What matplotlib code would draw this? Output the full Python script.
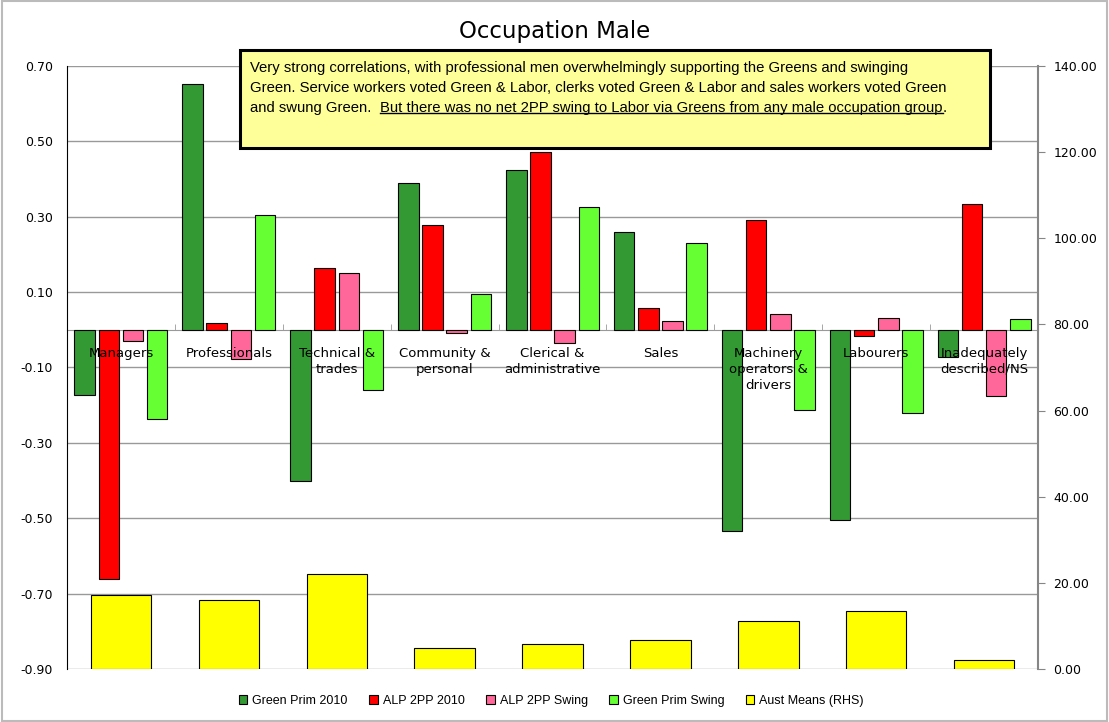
import matplotlib
matplotlib.use("Agg")
import matplotlib.pyplot as plt
import numpy as np
from matplotlib.patches import Patch, Rectangle
from matplotlib.lines import Line2D

# categories and series
categories = ["Managers", "Professionals", "Technical &\ntrades", "Community &\npersonal",
              "Clerical &\nadministrative", "Sales", "Machinery\noperators &\ndrivers",
              "Labourers", "Inadequately\ndescribed/NS"]
green_prim_2010 = [-0.173, 0.652, -0.402, 0.389, 0.424, 0.259, -0.533, -0.504, -0.073]
alp_2pp_2010 = [-0.660, 0.018, 0.164, 0.278, 0.472, 0.058, 0.291, -0.016, 0.334]
alp_2pp_swing = [-0.030, -0.077, 0.151, -0.008, -0.035, 0.023, 0.042, 0.031, -0.175]
green_prim_swing = [-0.237, 0.305, -0.159, 0.095, 0.326, 0.230, -0.213, -0.221, 0.029]
aust_means = [17.2, 16.0, 22.1, 4.9, 5.8, 6.7, 11.1, 13.5, 2.1]

series = [("Green Prim 2010", green_prim_2010, "#339933"),
          ("ALP 2PP 2010", alp_2pp_2010, "#FF0000"),
          ("ALP 2PP Swing", alp_2pp_swing, "#FF6699"),
          ("Green Prim Swing", green_prim_swing, "#66FF33")]

narrow = ["Liberation Sans", "DejaVu Sans"]
grid_col = "#999999"

fig = plt.figure(figsize=(11.09, 7.22), dpi=100)
ax = fig.add_axes([0.0604, 0.0734, 0.8756, 0.8352])
ax2 = ax.twinx()

x = np.arange(len(categories))
w = 0.19
step = 0.224
for i, (name, vals, col) in enumerate(series):
    ax.bar(x + (i - 1.5) * step, vals, w, color=col, edgecolor="black", linewidth=0.8, zorder=3)

ax2.bar(x, aust_means, 0.56, color="#FFFF00", edgecolor="black", linewidth=0.8, zorder=3)

# left axis
ax.set_xlim(-0.5, len(categories) - 0.5)
ax.set_ylim(-0.9, 0.7)
ax.set_yticks(np.arange(-0.9, 0.71, 0.2))
ax.set_yticklabels(["%.2f" % v for v in np.arange(-0.9, 0.71, 0.2)])
ax.yaxis.grid(True, color=grid_col, linewidth=1, zorder=0)
ax.set_axisbelow(True)
ax.tick_params(axis="y", length=0, labelsize=9, pad=10)

# x axis at zero, with small ticks between categories
ax.spines["bottom"].set_position(("data", 0))
ax.spines["bottom"].set_color(grid_col)
ax.spines["bottom"].set_zorder(2)
ax.set_xticks([])
ax.set_xticks(np.arange(-0.5, len(categories), 1.0), minor=True)
ax.tick_params(axis="x", which="minor", direction="in", length=4, color=grid_col)
ax.spines["top"].set_visible(False)
ax.spines["right"].set_visible(False)
ax.spines["left"].set_color("black")

for i, c in enumerate(categories):
    ax.text(i, -0.045, c, ha="center", va="top", fontsize=9.5, zorder=10, linespacing=1.3)

# right axis
ax2.set_ylim(0, 140)
ax2.set_yticks(np.arange(0, 141, 20))
ax2.set_yticklabels(["%.2f" % v for v in np.arange(0, 141, 20)])
ax2.tick_params(axis="y", direction="out", length=5, labelsize=9, pad=6, color="#868686")
for s in ["top", "left", "bottom"]:
    ax2.spines[s].set_visible(False)
ax2.spines["right"].set_color("#868686")
ax2.spines["right"].set_linewidth(1.5)

fig.text(0.5, 0.956, "Occupation Male", ha="center", va="center", fontsize=16.5)

# annotation box
box = Rectangle((0.2164, 0.795), 0.6763, 0.1357, transform=fig.transFigure,
                facecolor="#FFFF99", edgecolor="black", linewidth=2.2, zorder=20)
fig.patches.append(box)
fs = 10.7
lines = ["Very strong correlations, with professional men overwhelmingly supporting the Greens and swinging",
         "Green. Service workers voted Green & Labor, clerks voted Green & Labor and sales workers voted Green"]
fig.text(0.2254, 0.9058, lines[0], ha="left", va="center", fontsize=fs, family=narrow, zorder=21)
fig.text(0.2254, 0.878, lines[1], ha="left", va="center", fontsize=fs, family=narrow, zorder=21)
t1 = fig.text(0.2254, 0.850, "and swung Green.", ha="left", va="center", fontsize=fs, family=narrow, zorder=21)
fig.canvas.draw()
r = fig.canvas.get_renderer()
bb = t1.get_window_extent(r)
x2 = (bb.x1 + 9) / fig.bbox.width
t2 = fig.text(x2, 0.850, "But there was no net 2PP swing to Labor via Greens from any male occupation group",
              ha="left", va="center", fontsize=fs, family=narrow, zorder=21)
bb2 = t2.get_window_extent(r)
fig.text(bb2.x1 / fig.bbox.width, 0.850, ".", ha="left", va="center", fontsize=fs, family=narrow, zorder=21)
uy = (bb2.y0 + 2) / fig.bbox.height
fig.lines.append(Line2D([bb2.x0 / fig.bbox.width, bb2.x1 / fig.bbox.width], [uy, uy],
                        transform=fig.transFigure, color="black", linewidth=1, zorder=21))

# legend
handles = [Patch(facecolor=c, edgecolor="black", linewidth=0.8, label=n) for n, v, c in series]
handles.append(Patch(facecolor="#FFFF00", edgecolor="black", linewidth=0.8, label="Aust Means (RHS)"))
fig.legend(handles=handles, loc="center", bbox_to_anchor=(0.497, 0.029), ncol=5, frameon=False,
           handlelength=0.7, handleheight=0.7, handletextpad=0.4, columnspacing=1.7,
           prop={"family": narrow, "size": 9})

# light outer frame
fig.patches.append(Rectangle((0.002, 0.002), 0.996, 0.996, transform=fig.transFigure,
                             facecolor="none", edgecolor="#BBBBBB", linewidth=1.5))

fig.savefig("out.png", dpi=100)
